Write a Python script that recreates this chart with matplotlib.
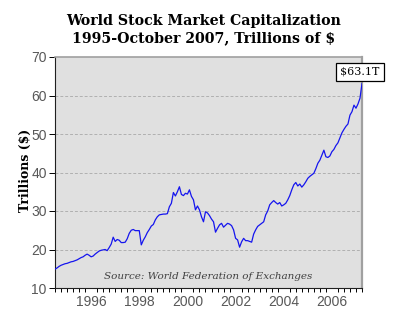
import numpy as np
import matplotlib
matplotlib.use('Agg')
import matplotlib.pyplot as plt
from matplotlib.ticker import FixedLocator

# Monthly world market cap, trillions of $, Jan 1995 - Oct 2007
cap_1995 = [14.9, 15.2, 15.6, 15.9, 16.1, 16.3, 16.4, 16.6, 16.8, 16.9, 17.1, 17.3]
cap_1996 = [17.6, 17.9, 18.1, 18.5, 18.8, 18.5, 18.1, 18.3, 18.8, 19.2, 19.6, 19.8]
cap_1997 = [19.9, 20.0, 19.7, 20.5, 21.4, 23.2, 22.1, 22.6, 22.4, 21.8, 21.8, 21.9]
cap_1998 = [22.8, 24.2, 25.0, 25.2, 24.9, 24.9, 24.9, 21.2, 22.4, 23.3, 24.4, 25.2]
cap_1999 = [26.1, 26.5, 27.7, 28.5, 29.0, 29.1, 29.2, 29.2, 29.3, 31.1, 32.0, 34.8]
cap_2000 = [33.9, 35.0, 36.3, 34.3, 34.0, 34.6, 34.4, 35.5, 33.8, 32.9, 30.3, 31.3]
cap_2001 = [30.3, 28.5, 27.2, 29.8, 29.5, 28.8, 27.9, 27.2, 24.5, 25.5, 26.4, 26.8]
cap_2002 = [25.8, 26.3, 26.8, 26.6, 26.2, 25.1, 22.9, 22.5, 20.6, 22.0, 22.9, 22.3]
cap_2003 = [22.3, 22.1, 21.9, 24.0, 25.1, 26.0, 26.4, 26.8, 27.2, 29.0, 30.0, 31.6]
cap_2004 = [32.2, 32.7, 32.2, 31.8, 32.2, 31.3, 31.6, 32.0, 32.9, 34.0, 35.5, 36.8]
cap_2005 = [37.4, 36.5, 37.0, 36.2, 36.8, 37.6, 38.5, 39.0, 39.4, 39.8, 41.0, 42.4]
cap_2006 = [43.2, 44.5, 45.8, 44.1, 43.9, 44.3, 45.4, 46.0, 47.0, 47.7, 49.0, 50.3]
cap_2007 = [51.2, 52.0, 52.6, 54.9, 55.8, 57.5, 56.7, 57.8, 59.3, 63.1]

values = (cap_1995 + cap_1996 + cap_1997 + cap_1998 + cap_1999 + cap_2000 + cap_2001
          + cap_2002 + cap_2003 + cap_2004 + cap_2005 + cap_2006 + cap_2007)
dates = 1995 + np.arange(len(values)) / 12.0

year_labels = ['1996', '1998', '2000', '2002', '2004', '2006']
y_ticks = [10, 20, 30, 40, 50, 60, 70]

fig = plt.figure(figsize=(4.0, 3.28), dpi=100)
ax = fig.add_axes([55 / 400, 1 - 288 / 328, 307 / 400, 231 / 328])
ax.set_facecolor('#e0e0e0')

for v in y_ticks[1:-1]:
    ax.axhline(v, color='#b0b0b0', lw=0.7, ls=(0, (3, 2)), zorder=1)

ax.plot(dates, values, color='#1515ee', lw=0.9, zorder=3)

ax.set_xlim(1995.0, dates[-1])
ax.set_ylim(10, 70)

# labels sit in the middle of the year
ax.xaxis.set_major_locator(FixedLocator([int(y) + 0.5 for y in year_labels]))
ax.set_xticklabels(year_labels)
ax.xaxis.set_minor_locator(FixedLocator(np.arange(1995.0, 2007.8, 0.25)))
ax.tick_params(axis='x', which='major', length=0, pad=5)
ax.tick_params(axis='x', which='minor', length=3, width=0.7, direction='out')
ax.set_yticks(y_ticks)
ax.tick_params(axis='y', length=4, width=0.7, direction='out', pad=2)
for lab in ax.get_xticklabels() + ax.get_yticklabels():
    lab.set_fontfamily('Liberation Sans')
    lab.set_fontsize(10)
    lab.set_color('#585858')

ax.spines['left'].set_color('#202020')
ax.spines['bottom'].set_color('#202020')
ax.spines['top'].set_color('#a0a0a0')
ax.spines['right'].set_color('#a0a0a0')
ax.spines['right'].set_linewidth(1.6)
ax.spines['top'].set_linewidth(1.2)

ax.set_ylabel('Trillions ($)', family='DejaVu Serif', fontweight='bold', fontsize=9)
ax.yaxis.set_label_coords(-0.075, 0.51)

fig.text(0.51, 1 - 14 / 328, 'World Stock Market Capitalization\n1995-October 2007, Trillions of $',
         ha='center', va='top', family='DejaVu Serif', fontweight='bold',
         fontsize=10.2, linespacing=1.25)

ax.text(0.5, 0.05, 'Source: World Federation of Exchanges', transform=ax.transAxes,
        ha='center', va='center', family='DejaVu Serif', style='italic',
        fontsize=7.5, color='#404040')

ax.annotate('$%.1fT' % values[-1], xy=(dates[-1], values[-1]),
            xytext=(360 / 400, 1 - 72 / 328), textcoords='figure fraction',
            ha='center', va='center', family='DejaVu Serif', fontsize=8,
            bbox=dict(boxstyle='square,pad=0.35', fc='white', ec='black', lw=0.9),
            annotation_clip=False, zorder=5)

fig.savefig('out.png', dpi=100)
